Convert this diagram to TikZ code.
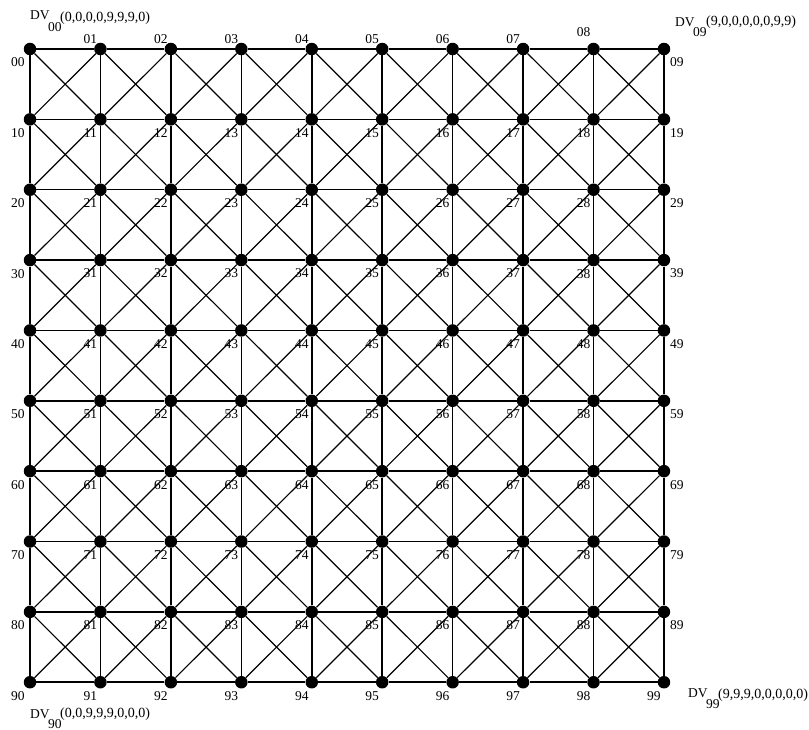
\documentclass[tikz,border=0pt]{standalone}
\usepackage{fontspec}
\setmainfont{Liberation Serif}
\begin{document}
\begin{tikzpicture}[x=1pt,y=-1pt,
  dot/.style={circle,fill=black,inner sep=0pt,minimum size=12.5pt},
  gridline/.style={line width=1.5pt},
  diagline/.style={line width=1.2pt},
  lbl/.style={font=\fontsize{13.5}{15}\selectfont,inner sep=0pt},
  tup/.style={font=\fontsize{14}{16}\selectfont,inner sep=0pt,anchor=base west},
  dvs/.style={font=\fontsize{13.5}{15}\selectfont,inner sep=0pt,anchor=base west}]
\useasboundingbox (0,0) rectangle (809,730);
% nodes
\foreach \i in {0,...,9}{
  \foreach \j in {0,...,9}{
    \node[dot] (n\i\j) at ({30+70.44*\j},{49+70.36*\i}) {};
  }
}
% horizontal and vertical lines
\foreach \i in {0,...,9}{
  \foreach \j [evaluate=\j as \jj using int(\j+1)] in {0,...,8}{
    \draw[gridline] (n\i\j) -- (n\i\jj);
    \draw[gridline] (n\j\i) -- (n\jj\i);
  }
}
% diagonals
\foreach \i [evaluate=\i as \ii using int(\i+1)] in {0,...,8}{
  \foreach \j [evaluate=\j as \jj using int(\j+1)] in {0,...,8}{
    \draw[diagline] (n\i\j) -- (n\ii\jj);
    \draw[diagline] (n\i\jj) -- (n\ii\j);
  }
}
% labels
\foreach \i in {1,...,9}{
  \foreach \j in {1,...,8}{
    \node[lbl] (l\i\j) at ([shift={(-10,13.5)}]n\i\j.center) {\i\j};
  }
}
\foreach \i in {0,...,9}{
  \node[lbl] (l\i0) at ([shift={(-12,13.5)}]n\i0.center) {\i0};
}
\foreach \i in {0,...,8}{
  \node[lbl] (l\i9) at ([shift={(13,13.5)}]n\i9.center) {\i9};
}
\node[lbl] (l99) at ([shift={(-10,14)}]n99.center) {99};
\foreach \j in {1,...,7}{
  \node[lbl] (l0\j) at ([shift={(-10,-10)}]n0\j.center) {0\j};
}
\node[lbl] (l08) at ([shift={(-10,-17)}]n08.center) {08};
% DV labels
\node[dvs] (dv00) at (30,20) {DV};
\node[dvs] (dv00s) at (48,32) {00};
\node[tup] (dv00t) at (60,22) {(0,0,0,0,9,9,9,0)};
\node[dvs] (dv09) at (675,27) {DV};
\node[dvs] (dv09s) at (693,37) {09};
\node[tup] (dv09t) at (706,26) {(9,0,0,0,0,0,9,9)};
\node[dvs] (dv99) at (688,697) {DV};
\node[dvs] (dv99s) at (706,708) {99};
\node[tup] (dv99t) at (718,698) {(9,9,9,0,0,0,0,0)};
\node[dvs] (dv90) at (30,718) {DV};
\node[dvs] (dv90s) at (48,728) {90};
\node[tup] (dv90t) at (60,717) {(0,0,9,9,9,0,0,0)};
\end{tikzpicture}
\end{document}
